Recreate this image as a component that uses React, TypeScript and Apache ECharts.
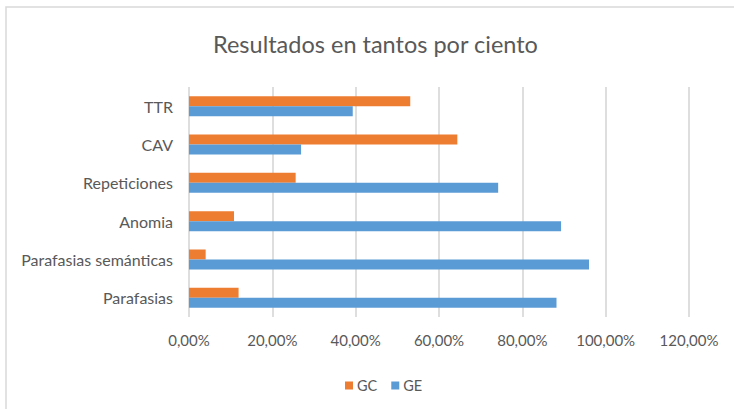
import React, { useEffect, useRef } from "react";
import * as echarts from "echarts";

const categories = ["Parafasias", "Parafasias semánticas", "Anomia", "Repeticiones", "CAV", "TTR"];
const gcValues = [0.119, 0.04, 0.108, 0.256, 0.644, 0.531];
const geValues = [0.882, 0.96, 0.893, 0.742, 0.269, 0.393];
const seriesNames = ["GC", "GE"];
const titleText = "Resultados en tantos por ciento";

const fmt = (v: number) => (v * 100).toFixed(2).replace(".", ",") + "%";

export default function App() {
  const ref = useRef<HTMLDivElement>(null);
  useEffect(() => {
    if (!ref.current) return;
    const chart = echarts.init(ref.current, undefined, { renderer: "svg" });
    const font = "Lato, 'Open Sans', sans-serif";
    chart.setOption({
      animation: false,
      backgroundColor: "#ffffff",
      textStyle: { fontFamily: font },
      title: {
        text: titleText,
        left: 208,
        top: 27,
        textStyle: { fontFamily: font, fontSize: 23.5, fontWeight: "normal", color: "#595959" },
      },
      graphic: [
        {
          type: "rect",
          shape: { x: 6, y: 7, width: 760, height: 440 },
          style: { fill: "none", stroke: "#d9d9d9", lineWidth: 1.5 },
          silent: true,
        },
      ],
      legend: {
        data: seriesNames,
        left: 340,
        top: 373,
        itemWidth: 8,
        itemHeight: 8,
        itemGap: 14,
        icon: "rect",
        textStyle: { fontFamily: font, fontSize: 14.5, color: "#595959", padding: [0, 0, 0, -1] },
      },
      grid: { left: 189, right: 45, top: 87, bottom: 92, containLabel: false },
      xAxis: {
        type: "value",
        min: 0,
        max: 1.2,
        interval: 0.2,
        axisLine: { show: false },
        axisTick: { show: false },
        axisLabel: { formatter: fmt, fontSize: 15, color: "#595959", margin: 15, fontFamily: font },
        splitLine: { show: true, lineStyle: { color: "#dedede", width: 2 } },
      },
      yAxis: {
        type: "category",
        data: categories,
        axisLine: { show: false },
        axisTick: { show: false },
        axisLabel: { fontSize: 16, color: "#595959", margin: 16, fontFamily: font },
      },
      series: [
        {
          name: "GC",
          type: "bar",
          data: gcValues,
          barWidth: 10,
          barGap: "0%",
          itemStyle: { color: "#ED7D31" },
        },
        {
          name: "GE",
          type: "bar",
          data: geValues,
          barWidth: 10,
          barGap: "0%",
          itemStyle: { color: "#5B9BD5" },
        },
      ],
    });
    return () => chart.dispose();
  }, []);
  return <div ref={ref} style={{ position: "absolute", left: 0, top: 0, width: 734, height: 409 }} />;
}
